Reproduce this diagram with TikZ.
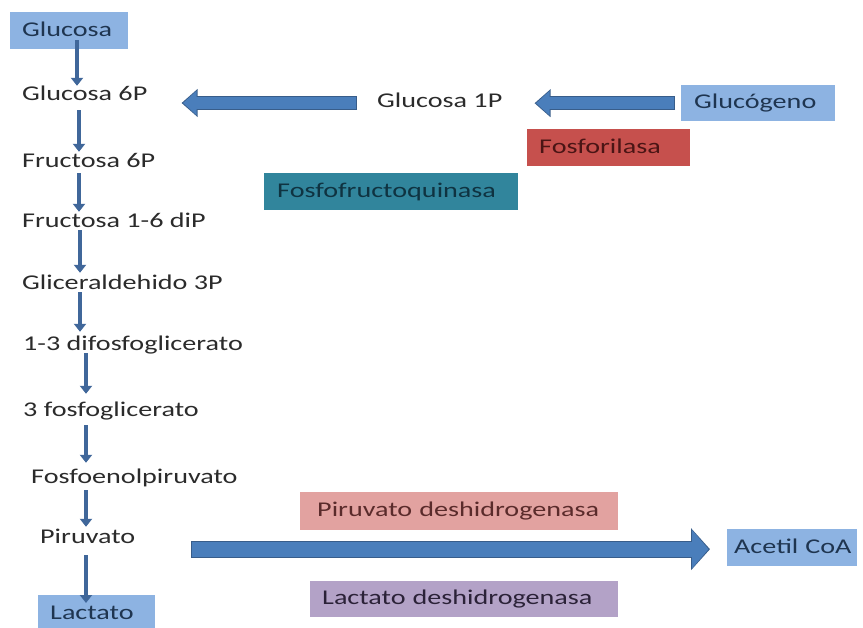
\documentclass[tikz,border=0pt]{standalone}
\usepackage{fontspec}
\setmainfont[FakeStretch=1.34]{Carlito}
\usetikzlibrary{arrows.meta}
\definecolor{cBlue}{HTML}{8DB3E2}
\definecolor{tBlue}{HTML}{1F3550}
\definecolor{cRed}{HTML}{C6504D}
\definecolor{tRed}{HTML}{4A1515}
\definecolor{cTeal}{HTML}{31859C}
\definecolor{tTeal}{HTML}{0F3341}
\definecolor{cPink}{HTML}{E2A2A0}
\definecolor{tPink}{HTML}{5A2B2B}
\definecolor{cLav}{HTML}{B3A2C7}
\definecolor{tLav}{HTML}{2B2238}
\definecolor{txt}{HTML}{2B2B2B}
\definecolor{aFill}{HTML}{4A7EBB}
\definecolor{aLine}{HTML}{385D8A}
\definecolor{vArr}{HTML}{40679A}
\begin{document}
\begin{tikzpicture}[x=1pt,y=-1pt,
  lbl/.style={inner sep=0pt, text height=15pt, text depth=4pt, text=txt,
    font=\fontsize{21pt}{25pt}\selectfont, anchor=base west},
  box/.style={rectangle, inner ysep=0pt, text height=15pt, text depth=4pt, align=left,
    font=\fontsize{21pt}{25pt}\selectfont, anchor=north west},
  varrow/.style={draw=vArr, line width=4.5pt, -{Triangle[width=12pt,length=8pt]}},
  bigout/.style={draw=aLine, line width=14pt, -{Triangle[width=27pt,length=16pt]}},
  bigin/.style={draw=aFill, line width=12pt, -{Triangle[width=23.5pt,length=13.5pt]}},
  hugeout/.style={draw=aLine, line width=17pt, -{Triangle[width=41pt,length=19pt]}},
  hugein/.style={draw=aFill, line width=15pt, -{Triangle[width=37.5pt,length=16.5pt]}}
]
\useasboundingbox[fill=white] (0,0) rectangle (863,628);

% boxes
\node[box, fill=cBlue, text=tBlue, inner xsep=12pt, text width=94pt, minimum height=37pt] (g) at (10,12) {\mbox{Glucosa}};
\node[box, fill=cBlue, text=tBlue, inner xsep=13pt, text width=128pt, minimum height=36pt] (glg) at (681,85) {\mbox{Glucógeno}};
\node[box, fill=cRed, text=tRed, inner xsep=12pt, text width=139pt, minimum height=37pt] (fos) at (527,129) {\mbox{Fosforilasa}};
\node[box, fill=cTeal, text=tTeal, inner xsep=13pt, text width=228pt, minimum height=37pt] (pfk) at (264,173) {\mbox{Fosfofructoquinasa}};
\node[box, fill=cPink, text=tPink, inner xsep=17pt, text width=284pt, minimum height=38pt] (pdh) at (300,492) {\mbox{Piruvato deshidrogenasa}};
\node[box, fill=cLav, text=tLav, inner xsep=12pt, text width=284pt, minimum height=36pt] (ldh) at (310,581) {\mbox{Lactato deshidrogenasa}};
\node[box, fill=cBlue, text=tBlue, inner xsep=7pt, text width=116pt, minimum height=37pt] (acoa) at (727,529) {\mbox{Acetil CoA}};
\node[box, fill=cBlue, text=tBlue, inner xsep=12pt, text width=93pt, minimum height=37pt] (lac) at (38,595) {\mbox{Lactato}};

% plain labels
\node[lbl] (g6p) at (22,101) {Glucosa 6P};
\node[lbl] (f6p) at (22,168) {Fructosa 6P};
\node[lbl] (f16) at (22,228) {Fructosa 1-6 diP};
\node[lbl] (gli) at (22,290) {Gliceraldehido 3P};
\node[lbl] (d13) at (23,351) {1-3 difosfoglicerato};
\node[lbl] (f3) at (23,417) {3 fosfoglicerato};
\node[lbl] (pep) at (31,483) {Fosfoenolpiruvato};
\node[lbl] (pir) at (40,543) {Piruvato};
\node[lbl] (g1p) at (377,108) {Glucosa 1P};

% columns for the vertical arrows
\coordinate (c1) at (77,0);
\coordinate (c2) at (79,0);
\coordinate (c3) at (80,0);
\coordinate (c4) at (86,0);

\draw[varrow, shorten <=-9pt] (g.south -| c1) -- (g6p.north -| c1);
\draw[varrow, shorten <=5pt, shorten >=1pt] (g6p.south -| c2) -- (f6p.north -| c2);
\draw[varrow, shorten <=1pt, shorten >=1pt] (f6p.south -| c2) -- (f16.north -| c2);
\draw[varrow, shorten <=-2pt, shorten >=2pt] (f16.south -| c3) -- (gli.north -| c3);
\draw[varrow, shorten <=-2pt, shorten >=4pt] (gli.south -| c3) -- (d13.north -| c3);
\draw[varrow, shorten <=-2pt, shorten >=8pt] (d13.south -| c4) -- (f3.north -| c4);
\draw[varrow, shorten <=4pt, shorten >=5pt] (f3.south -| c4) -- (pep.north -| c4);
\draw[varrow, shorten <=3pt, shorten >=1pt] (pep.south -| c4) -- (pir.north -| c4);
\draw[varrow, shorten <=8pt, shorten >=-8pt] (pir.south -| c4) -- (lac.north -| c4);

% block arrows
\draw[bigout, shorten <=20pt, shorten >=34pt] ([yshift=-0.5pt]g1p.west) -- ([yshift=-0.5pt]g1p.west -| g6p.east);
\draw[bigin, shorten <=21pt, shorten >=35.5pt] ([yshift=-0.5pt]g1p.west) -- ([yshift=-0.5pt]g1p.west -| g6p.east);

\draw[bigout, shorten <=6pt, shorten >=32pt] (glg.west) -- (glg.west -| g1p.east);
\draw[bigin, shorten <=7pt, shorten >=33.5pt] (glg.west) -- (glg.west -| g1p.east);

\draw[hugeout, shorten <=56pt, shorten >=17pt] ([yshift=-1.5pt]acoa.west -| pir.east) -- ([yshift=-1.5pt]acoa.west);
\draw[hugein, shorten <=57pt, shorten >=18.5pt] ([yshift=-1.5pt]acoa.west -| pir.east) -- ([yshift=-1.5pt]acoa.west);
\end{tikzpicture}
\end{document}
